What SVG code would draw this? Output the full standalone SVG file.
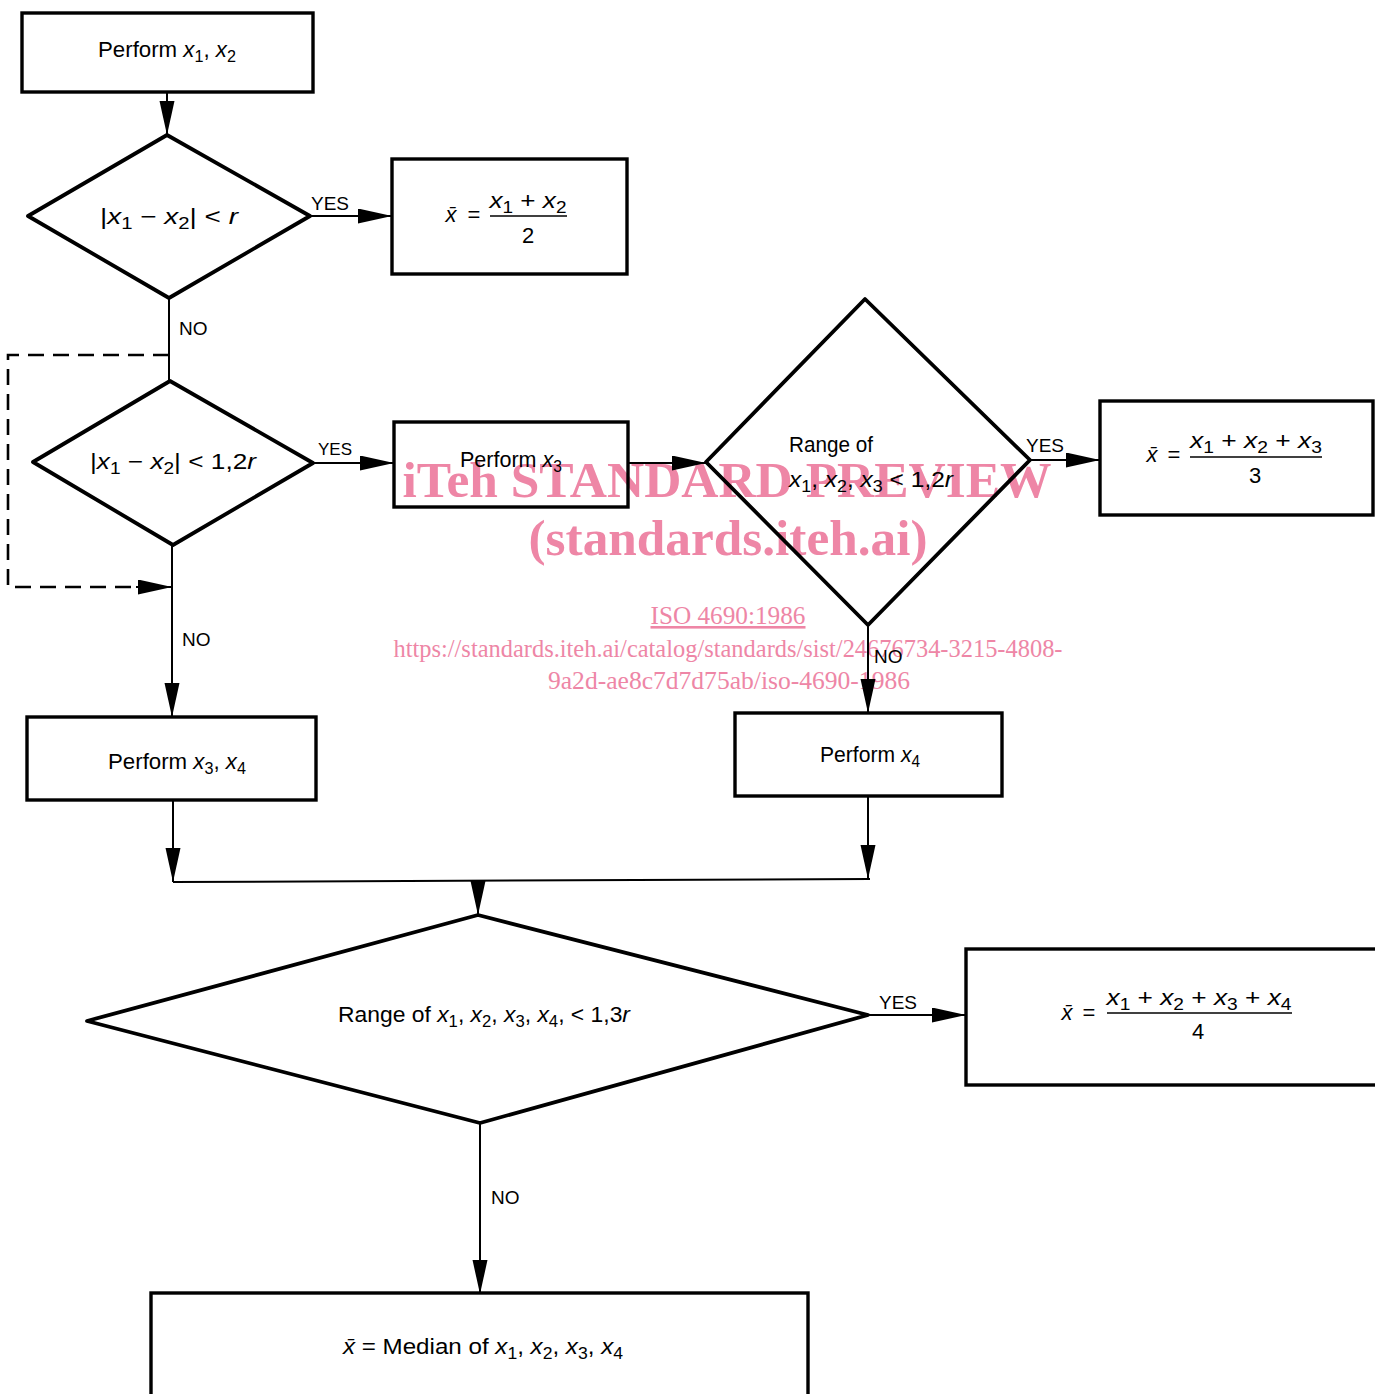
<svg xmlns="http://www.w3.org/2000/svg" width="1375" height="1394" viewBox="0 0 1375 1394">
<style>
.box{fill:none;stroke:#000;stroke-width:3.4}
.dia{fill:none;stroke:#000;stroke-width:3.8;stroke-linejoin:round}
.con{fill:none;stroke:#000;stroke-width:2}
.dash{fill:none;stroke:#000;stroke-width:2.6;stroke-dasharray:16,9}
.frac{stroke:#000;stroke-width:1.6}
text{font-family:"Liberation Sans",Arial,sans-serif;font-size:22px;fill:#000}
.lbl{font-size:19px}
.i{font-style:italic}
.s{font-size:16px}
.wm{font-family:"Liberation Serif","Times New Roman",serif;fill:#ee86a6}
.wmb{font-weight:bold;font-size:50px}
.wms{font-size:26px}
</style>
<defs>
<marker id="ah" markerUnits="userSpaceOnUse" markerWidth="36" markerHeight="16" refX="34" refY="7.5" orient="auto">
<path d="M0,0 L34,7.5 L0,15 Z" fill="#000"/>
</marker>
</defs>
<rect width="1375" height="1394" fill="#fff"/>

<g id="watermark">
<text class="wm wmb" x="727" y="497" text-anchor="middle" textLength="649" lengthAdjust="spacingAndGlyphs">iTeh STANDARD PREVIEW</text>
<text class="wm wmb" x="728" y="555" text-anchor="middle" textLength="399" lengthAdjust="spacingAndGlyphs">(standards.iteh.ai)</text>
<text class="wm wms" x="728" y="624" text-anchor="middle" text-decoration="underline" textLength="155" lengthAdjust="spacingAndGlyphs">ISO 4690:1986</text>
<text class="wm wms" x="728" y="657" text-anchor="middle" textLength="669" lengthAdjust="spacingAndGlyphs">https://standards.iteh.ai/catalog/standards/sist/24676734-3215-4808-</text>
<text class="wm wms" x="729" y="689" text-anchor="middle" textLength="362" lengthAdjust="spacingAndGlyphs">9a2d-ae8c7d7d75ab/iso-4690-1986</text>
</g>

<g id="connectors">
<path class="con" d="M167,92 V135" marker-end="url(#ah)"/>
<path class="con" d="M310,216 H392" marker-end="url(#ah)"/>
<path class="con" d="M169,298 V381"/>
<path class="dash" d="M169,355 H8 V587 H140"/>
<path class="con" d="M136,587 H172" marker-end="url(#ah)"/>
<path class="con" d="M313,463 H394" marker-end="url(#ah)"/>
<path class="con" d="M628,463 H706" marker-end="url(#ah)"/>
<path class="con" d="M1030,460 H1100" marker-end="url(#ah)"/>
<path class="con" d="M868,625 V713" marker-end="url(#ah)"/>
<path class="con" d="M172,545 V717" marker-end="url(#ah)"/>
<path class="con" d="M173,800 V882" marker-end="url(#ah)"/>
<path class="con" d="M868,796 V879" marker-end="url(#ah)"/>
<path class="con" d="M173,882 L870,879"/>
<path class="con" d="M478,881 V915" marker-end="url(#ah)"/>
<path class="con" d="M868,1015 H966" marker-end="url(#ah)"/>
<path class="con" d="M480,1123 V1294" marker-end="url(#ah)"/>
<text class="lbl" x="311" y="210">YES</text>
<text class="lbl" x="179" y="335">NO</text>
<text class="lbl" x="318" y="455" style="font-size:17px">YES</text>
<text class="lbl" x="182" y="646">NO</text>
<text class="lbl" x="1026" y="452">YES</text>
<text class="lbl" x="874" y="663">NO</text>
<text class="lbl" x="879" y="1009">YES</text>
<text class="lbl" x="491" y="1204">NO</text>
</g>

<g id="n-perform12">
<rect class="box" x="22" y="13" width="291" height="79"/>
<text x="167" y="57" text-anchor="middle" textLength="138" lengthAdjust="spacingAndGlyphs">Perform <tspan class="i">x</tspan><tspan class="s" dy="5">1</tspan><tspan dy="-5">, </tspan><tspan class="i">x</tspan><tspan class="s" dy="5">2</tspan></text>
</g>

<g id="n-dec1">
<polygon class="dia" points="167,135 310,216 169,298 28,216"/>
<text x="169" y="224" text-anchor="middle" textLength="138" lengthAdjust="spacingAndGlyphs">|<tspan class="i">x</tspan><tspan class="s" dy="5">1</tspan><tspan dy="-5">  −  </tspan><tspan class="i">x</tspan><tspan class="s" dy="5">2</tspan><tspan dy="-5">|  &lt;  </tspan><tspan class="i">r</tspan></text>
</g>

<g id="n-mean2">
<rect class="box" x="392" y="159" width="235" height="115"/>
<text x="451" y="222" text-anchor="middle" class="i">x̄</text>
<text x="474" y="222" text-anchor="middle">=</text>
<text x="528" y="208" text-anchor="middle" textLength="77" lengthAdjust="spacingAndGlyphs"><tspan class="i">x</tspan><tspan class="s" dy="5">1</tspan><tspan dy="-5">  +  </tspan><tspan class="i">x</tspan><tspan class="s" dy="5">2</tspan></text>
<line class="frac" x1="490" y1="216" x2="567" y2="216"/>
<text x="528" y="243" text-anchor="middle">2</text>
</g>

<g id="n-dec2">
<polygon class="dia" points="170,381 313,463 173,545 33,462"/>
<text x="173" y="469" text-anchor="middle" textLength="166" lengthAdjust="spacingAndGlyphs">|<tspan class="i">x</tspan><tspan class="s" dy="5">1</tspan><tspan dy="-5">  −  </tspan><tspan class="i">x</tspan><tspan class="s" dy="5">2</tspan><tspan dy="-5">|  &lt;  1,2</tspan><tspan class="i">r</tspan></text>
</g>

<g id="n-perform3">
<rect class="box" x="394" y="422" width="234" height="85"/>
<text x="460" y="467" textLength="102" lengthAdjust="spacingAndGlyphs">Perform <tspan class="i">x</tspan><tspan class="s" dy="5">3</tspan></text>
</g>

<g id="n-dec3">
<polygon class="dia" points="865,299 1030,460 868,625 706,462"/>
<text x="789" y="452" textLength="84" lengthAdjust="spacingAndGlyphs">Range of</text>
<text x="871" y="487" text-anchor="middle" textLength="164" lengthAdjust="spacingAndGlyphs"><tspan class="i">x</tspan><tspan class="s" dy="5">1</tspan><tspan dy="-5">, </tspan><tspan class="i">x</tspan><tspan class="s" dy="5">2</tspan><tspan dy="-5">, </tspan><tspan class="i">x</tspan><tspan class="s" dy="5">3</tspan><tspan dy="-5">  &lt;  1,2</tspan><tspan class="i">r</tspan></text>
</g>

<g id="n-mean3">
<rect class="box" x="1100" y="401" width="273" height="114"/>
<text x="1152" y="462" text-anchor="middle" class="i">x̄</text>
<text x="1174" y="462" text-anchor="middle">=</text>
<text x="1256" y="448" text-anchor="middle" textLength="132" lengthAdjust="spacingAndGlyphs"><tspan class="i">x</tspan><tspan class="s" dy="5">1</tspan><tspan dy="-5">  +  </tspan><tspan class="i">x</tspan><tspan class="s" dy="5">2</tspan><tspan dy="-5">  +  </tspan><tspan class="i">x</tspan><tspan class="s" dy="5">3</tspan></text>
<line class="frac" x1="1190" y1="457" x2="1322" y2="457"/>
<text x="1255" y="483" text-anchor="middle">3</text>
</g>

<g id="n-perform34">
<rect class="box" x="27" y="717" width="289" height="83"/>
<text x="177" y="769" text-anchor="middle" textLength="138" lengthAdjust="spacingAndGlyphs">Perform <tspan class="i">x</tspan><tspan class="s" dy="5">3</tspan><tspan dy="-5">, </tspan><tspan class="i">x</tspan><tspan class="s" dy="5">4</tspan></text>
</g>

<g id="n-perform4">
<rect class="box" x="735" y="713" width="267" height="83"/>
<text x="870" y="762" text-anchor="middle" textLength="100" lengthAdjust="spacingAndGlyphs">Perform <tspan class="i">x</tspan><tspan class="s" dy="5">4</tspan></text>
</g>

<g id="n-dec4">
<polygon class="dia" points="478,915 868,1015 480,1123 87,1021"/>
<text x="484" y="1022" text-anchor="middle" textLength="292" lengthAdjust="spacingAndGlyphs">Range of <tspan class="i">x</tspan><tspan class="s" dy="5">1</tspan><tspan dy="-5">, </tspan><tspan class="i">x</tspan><tspan class="s" dy="5">2</tspan><tspan dy="-5">, </tspan><tspan class="i">x</tspan><tspan class="s" dy="5">3</tspan><tspan dy="-5">, </tspan><tspan class="i">x</tspan><tspan class="s" dy="5">4</tspan><tspan dy="-5">,  &lt; 1,3</tspan><tspan class="i">r</tspan></text>
</g>

<g id="n-mean4">
<rect class="box" x="966" y="949" width="420" height="136"/>
<text x="1067" y="1020" text-anchor="middle" class="i">x̄</text>
<text x="1089" y="1020" text-anchor="middle">=</text>
<text x="1199" y="1005" text-anchor="middle" textLength="185" lengthAdjust="spacingAndGlyphs"><tspan class="i">x</tspan><tspan class="s" dy="5">1</tspan><tspan dy="-5">  +  </tspan><tspan class="i">x</tspan><tspan class="s" dy="5">2</tspan><tspan dy="-5">  +  </tspan><tspan class="i">x</tspan><tspan class="s" dy="5">3</tspan><tspan dy="-5">  +  </tspan><tspan class="i">x</tspan><tspan class="s" dy="5">4</tspan></text>
<line class="frac" x1="1107" y1="1013" x2="1292" y2="1013"/>
<text x="1198" y="1039" text-anchor="middle">4</text>
</g>

<g id="n-median">
<rect class="box" x="151" y="1293" width="657" height="120"/>
<text x="483" y="1354" text-anchor="middle" textLength="280" lengthAdjust="spacingAndGlyphs"><tspan class="i">x̄</tspan>  =  Median of <tspan class="i">x</tspan><tspan class="s" dy="5">1</tspan><tspan dy="-5">, </tspan><tspan class="i">x</tspan><tspan class="s" dy="5">2</tspan><tspan dy="-5">, </tspan><tspan class="i">x</tspan><tspan class="s" dy="5">3</tspan><tspan dy="-5">, </tspan><tspan class="i">x</tspan><tspan class="s" dy="5">4</tspan></text>
</g>
</svg>
